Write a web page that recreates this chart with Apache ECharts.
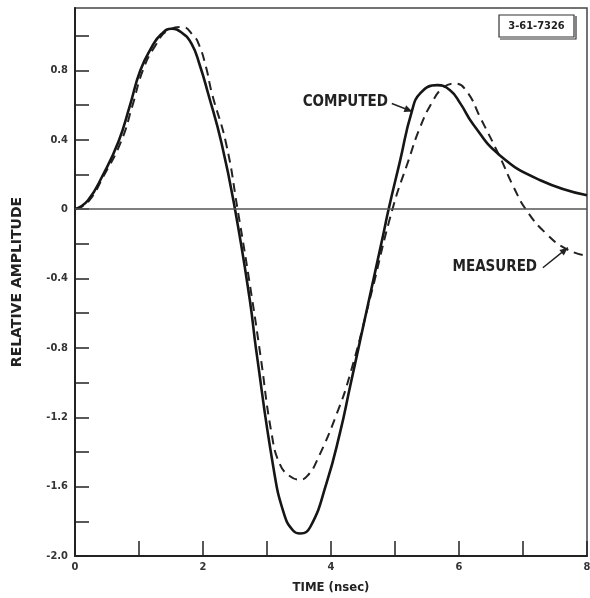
<!DOCTYPE html>
<html>
<head>
<meta charset="utf-8">
<script src="https://cdn.jsdelivr.net/npm/echarts@6/dist/echarts.min.js"></script>
<style>
html,body{margin:0;padding:0;background:#fff;}
#chart{width:590px;height:598px;}
</style>
</head>
<body>
<div id="chart"></div>
<script>
// Time (nsec) and relative amplitude
var computedTime = [0, 0.2, 0.44, 0.68, 0.86, 1.02, 1.2, 1.35, 1.51, 1.66, 1.82, 1.95, 2.08, 2.29, 2.5, 2.73, 2.83, 3.1, 3.26, 3.4, 3.52, 3.68, 3.93, 4.14, 4.3, 4.56, 4.82, 4.9, 5.08, 5.26, 5.4, 5.66, 5.86, 6.02, 6.22, 6.64, 7.27, 8];
var computedAmp  = [0, 0.05, 0.2, 0.39, 0.6, 0.8, 0.935, 1.01, 1.04, 1.02, 0.955, 0.83, 0.667, 0.38, 0.0, -0.52, -0.81, -1.49, -1.75, -1.85, -1.87, -1.83, -1.58, -1.29, -1.02, -0.58, -0.14, 0.0, 0.28, 0.56, 0.67, 0.715, 0.686, 0.61, 0.49, 0.31, 0.167, 0.08];

var measuredTime = [0, 0.2, 0.46, 0.72, 0.9, 1.06, 1.25, 1.45, 1.68, 1.85, 1.93, 2.04, 2.14, 2.36, 2.54, 2.76, 2.9, 3.07, 3.2, 3.36, 3.52, 3.65, 3.78, 4.09, 4.3, 4.62, 4.96, 5.21, 5.39, 5.57, 5.75, 5.94, 6.12, 6.33, 6.64, 6.85, 7.06, 7.36, 7.68, 8];
var measuredAmp  = [0, 0.04, 0.2, 0.39, 0.6, 0.8, 0.94, 1.03, 1.05, 1.0, 0.955, 0.83, 0.667, 0.38, 0.0, -0.5, -0.85, -1.29, -1.47, -1.54, -1.56, -1.53, -1.45, -1.18, -0.95, -0.5, 0.0, 0.28, 0.47, 0.61, 0.70, 0.724, 0.68, 0.53, 0.30, 0.13, -0.01, -0.14, -0.23, -0.27];

var xTickLabels = ['0', '2', '4', '6', '8'];
var yTickLabels = ['0.8', '0.4', '0', '-0.4', '-0.8', '-1.2', '-1.6', '-2.0'];

function pairs(t, v) { return t.map(function (x, i) { return [x, v[i]]; }); }

var INK = '#161616';
var FONT = '"DejaVu Sans Condensed", "DejaVu Sans", sans-serif';
var WIDE = '"DejaVu Sans", sans-serif';

var chart = echarts.init(document.getElementById('chart'), null, {renderer: 'canvas'});

var option = {
  backgroundColor: '#ffffff',
  animation: false,
  grid: {
    left: 75, right: 3, top: 8, bottom: 42,
    containLabel: false, outerBoundsMode: 'none',
    show: true, borderColor: '#444', borderWidth: 1.5, backgroundColor: 'transparent'
  },
  xAxis: {
    type: 'value', min: 0, max: 8, interval: 1,
    name: 'TIME (nsec)', nameLocation: 'middle', nameGap: 25,
    nameTextStyle: {fontFamily: FONT, fontSize: 13, fontWeight: 'bold', color: '#222'},
    axisLine: {show: true, onZero: false, lineStyle: {color: '#222', width: 2}},
    axisTick: {show: true, inside: true, length: 15, lineStyle: {color: '#222', width: 1.5}},
    axisLabel: {
      show: true, margin: 6, fontFamily: FONT, fontSize: 11, fontWeight: 'bold', color: '#333',
      formatter: function (v) { var s = String(Math.round(v)); return xTickLabels.indexOf(s) >= 0 ? s : ''; }
    },
    splitLine: {show: false}
  },
  yAxis: {
    type: 'value', min: -2.0, max: 1.16, interval: 0.2,
    name: 'RELATIVE AMPLITUDE', nameLocation: 'middle', nameGap: 51,
    nameTextStyle: {fontFamily: WIDE, fontSize: 14, fontWeight: 'bold', color: '#222'},
    axisLine: {show: true, onZero: false, lineStyle: {color: '#222', width: 2}},
    axisTick: {show: true, inside: true, length: 14, lineStyle: {color: '#222', width: 1.5}},
    axisLabel: {
      show: true, margin: 7, fontFamily: FONT, fontSize: 11, fontWeight: 'bold', color: '#333',
      showMaxLabel: false,
      formatter: function (v) {
        var r = Math.round(v * 10) / 10;
        if (Math.abs(v - r) > 1e-6) return '';
        var s = (r === 0) ? '0' : r.toFixed(1);
        return yTickLabels.indexOf(s) >= 0 ? s : '';
      }
    },
    splitLine: {show: false}
  },
  series: [
    {
      name: 'COMPUTED', type: 'line', data: pairs(computedTime, computedAmp),
      smooth: 0.5, showSymbol: false, symbol: 'none',
      lineStyle: {color: INK, width: 2.6}, z: 3,
      markLine: {
        silent: true, symbol: ['none', 'none'], label: {show: false},
        lineStyle: {color: '#555', width: 1.5, type: 'solid'},
        data: [{yAxis: 0}]
      }
    },
    {
      name: 'MEASURED', type: 'line', data: pairs(measuredTime, measuredAmp),
      smooth: 0.5, showSymbol: false, symbol: 'none',
      lineStyle: {color: '#222', width: 2, type: [9, 6]}, z: 2
    }
  ]
};
chart.setOption(option);

// annotations anchored in data coordinates
function px(t, v) { return chart.convertToPixel({gridIndex: 0}, [t, v]); }
function arrow(from, to) {
  var a = px(from[0], from[1]), b = px(to[0], to[1]);
  var ang = Math.atan2(b[1] - a[1], b[0] - a[0]);
  var L = 8, W = 3.5;
  var p1 = [b[0] - L * Math.cos(ang) + W * Math.sin(ang), b[1] - L * Math.sin(ang) - W * Math.cos(ang)];
  var p2 = [b[0] - L * Math.cos(ang) - W * Math.sin(ang), b[1] - L * Math.sin(ang) + W * Math.cos(ang)];
  return [
    {type: 'line', shape: {x1: a[0], y1: a[1], x2: b[0], y2: b[1]}, style: {stroke: '#222', lineWidth: 1.5}},
    {type: 'polygon', shape: {points: [b, p1, p2]}, style: {fill: '#222'}}
  ];
}
var cText = px(4.89, 0.615), mText = px(7.22, -0.332);
var g = [];
g.push({type: 'text', x: cText[0], y: cText[1], style: {text: 'COMPUTED', fill: '#222', font: 'bold 15px ' + FONT, align: 'right', verticalAlign: 'middle'}});
g = g.concat(arrow([4.95, 0.609], [5.27, 0.563]));
g.push({type: 'text', x: mText[0], y: mText[1], style: {text: 'MEASURED', fill: '#222', font: 'bold 15px ' + FONT, align: 'right', verticalAlign: 'middle'}});
g = g.concat(arrow([7.31, -0.338], [7.70, -0.222]));
// figure number box
g.push({type: 'rect', shape: {x: 499, y: 15, width: 75, height: 22}, style: {fill: '#fff', stroke: '#333', lineWidth: 1.2}});
g.push({type: 'polyline', shape: {points: [[576, 16], [576, 39], [500, 39]]}, style: {stroke: '#333', lineWidth: 1.2, fill: null}});
g.push({type: 'text', x: 536.5, y: 26.5, style: {text: '3-61-7326', fill: '#222', font: 'bold 11px ' + FONT, align: 'center', verticalAlign: 'middle'}});
chart.setOption({graphic: g});
</script>
</body>
</html>
